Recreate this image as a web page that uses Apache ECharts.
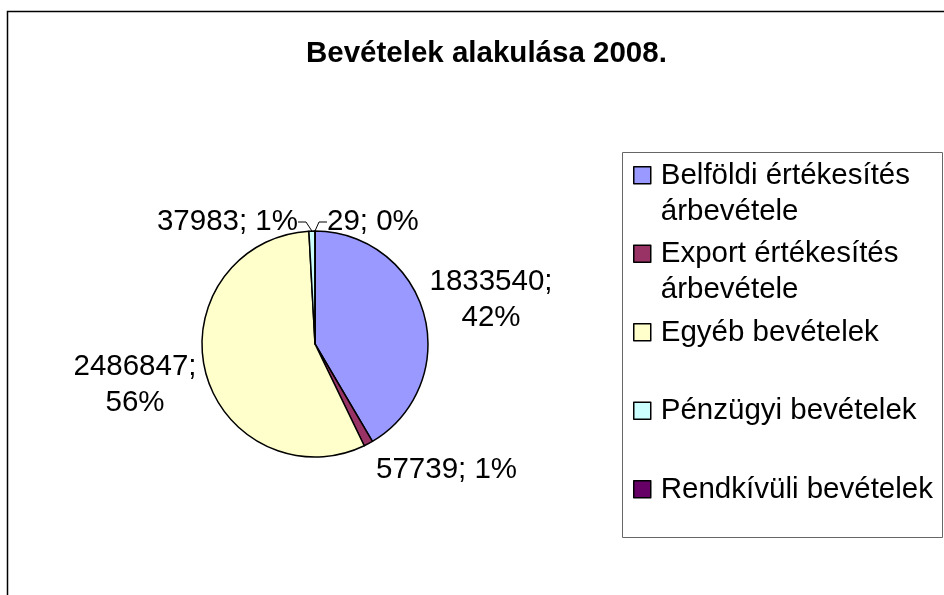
<!DOCTYPE html>
<html>
<head>
<meta charset="utf-8">
<title>Bevételek alakulása 2008.</title>
<script src="https://cdn.jsdelivr.net/npm/echarts@6/dist/echarts.min.js"></script>
<style>
    html, body { margin: 0; padding: 0; background: #fff; }
    #myEcharts { width: 944px; height: 595px; }
</style>
</head>
<body>
<div id="myEcharts"></div>
<script>
const categories = [
    'Belföldi értékesítés árbevétele',
    'Export értékesítés árbevétele',
    'Egyéb bevételek',
    'Pénzügyi bevételek',
    'Rendkívüli bevételek'
]
const values = [1833540, 57739, 2486847, 37983, 29]
const colors = ['#9999FF', '#993366', '#FFFFCC', '#CCFFFF', '#660066']

const FONT = "'Liberation Sans', Arial, sans-serif"

// where the data labels sit (Excel placed them around the pie)
// the two tiny slices get a short leader line
const labelSpots = [
    { x: 491, y: 300, align: 'center', wrap: true },
    { x: 376, y: 470, align: 'left' },
    { x: 135, y: 385, align: 'center', wrap: true },
    { x: 298, y: 222, align: 'right', leader: true },
    { x: 327, y: 222, align: 'left', leader: true }
]

function labelText(p) {
    const pct = Math.round(p.percent) + '%'
    return labelSpots[p.dataIndex].wrap ? p.value + ';\n' + pct : p.value + '; ' + pct
}

// legend: every item takes two lines, icon sits on the first one
function legendText(name) {
    if (name.indexOf(' árbevétele') > 0) return name.replace(' árbevétele', '\nárbevétele')
    return name + '\n '
}

const pieData = categories.map((name, i) => ({
    name,
    value: values[i],
    itemStyle: { color: colors[i] },
    labelLine: { show: !!labelSpots[i].leader }
}))

const chart = echarts.init(document.getElementById('myEcharts'))
const options = {
    animation: false,
    backgroundColor: '#fff',
    textStyle: { fontFamily: FONT },
    title: {
        text: 'Bevételek alakulása 2008.',
        left: 306,
        top: 39,
        padding: 0,
        textStyle: { fontFamily: FONT, fontSize: 29.5, fontWeight: 'bold', color: '#000' }
    },
    legend: {
        orient: 'vertical',
        left: 633,
        top: 157,
        padding: 0,
        itemGap: 5,
        itemWidth: 22,
        itemHeight: 72,
        selectedMode: false,
        icon: 'path://M0,0M22,72M0,9h17v17h-17Z',
        itemStyle: { borderColor: '#000', borderWidth: 1.5 },
        formatter: legendText,
        textStyle: { fontFamily: FONT, fontSize: 29.5, lineHeight: 36, color: '#000' },
        data: categories
    },
    graphic: [
        // outer frame of the chart area
        { type: 'rect', silent: true, z: -1,
          shape: { x: 7.5, y: 11.5, width: 1000, height: 1000 },
          style: { fill: 'none', stroke: '#000', lineWidth: 1.5 } },
        // legend box
        { type: 'rect', silent: true,
          shape: { x: 622.5, y: 152.5, width: 320, height: 385 },
          style: { fill: 'none', stroke: '#666', lineWidth: 1 } }
    ],
    series: [{
        type: 'pie',
        center: [315, 344],
        radius: 113,
        startAngle: 90,
        clockwise: true,
        silent: true,
        avoidLabelOverlap: false,
        itemStyle: { borderColor: '#000', borderWidth: 1.5 },
        label: {
            show: true,
            position: 'outside',
            formatter: labelText,
            fontFamily: FONT,
            fontSize: 29.5,
            lineHeight: 36,
            color: '#000'
        },
        labelLine: {
            show: false,
            length: 8,
            length2: 8,
            smooth: false,
            lineStyle: { color: '#000', width: 1 }
        },
        labelLayout: p => {
            const s = labelSpots[p.dataIndex]
            return { x: s.x, y: s.y, align: s.align, verticalAlign: 'middle' }
        },
        data: pieData
    }]
}
chart.setOption(options)
</script>
</body>
</html>
